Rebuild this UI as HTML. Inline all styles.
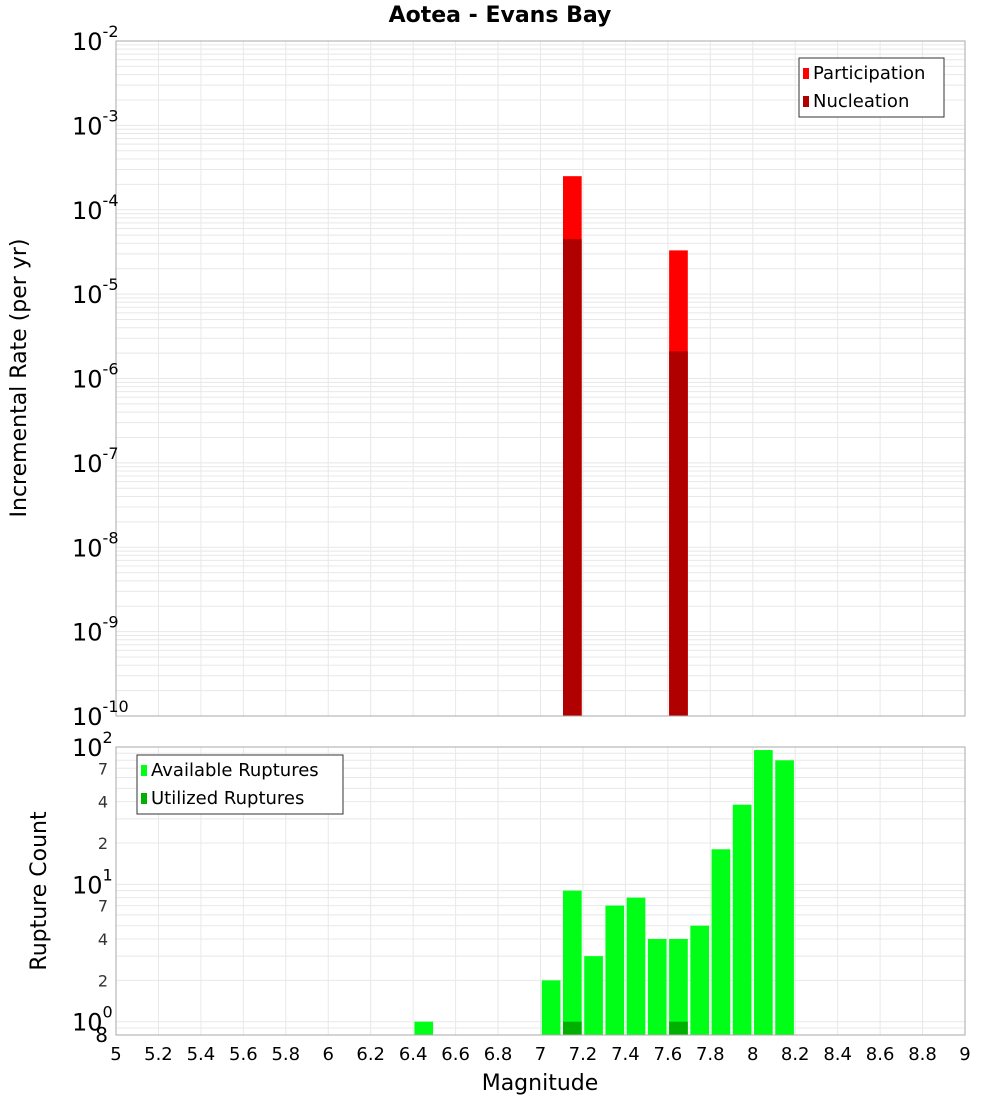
<!DOCTYPE html>
<html><head><meta charset="utf-8"><style>body{margin:0;background:#fff}svg{display:block;font-family:"DejaVu Sans","Liberation Sans",sans-serif}</style></head>
<body>
<svg id="c" width="1000" height="1100"></svg>
<script>
const topCenters=[7.15,7.65];
const participation=[2.5e-4,3.3e-5];
const nucleation=[4.5e-5,2.1e-6];
const botCenters=[6.45,7.05,7.15,7.25,7.35,7.45,7.55,7.65,7.75,7.85,7.95,8.05,8.15];
const available=[1,2,9,3,7,8,4,4,5,18,38,95,80];
const utilCenters=[7.15,7.65];
const utilized=[1,1];
const xTicks=[5,5.2,5.4,5.6,5.8,6,6.2,6.4,6.6,6.8,7,7.2,7.4,7.6,7.8,8,8.2,8.4,8.6,8.8,9];
const topExps=[-2,-3,-4,-5,-6,-7,-8,-9,-10];
const botMinorLabels=[2,4,7];

const NS="http://www.w3.org/2000/svg",svg=document.getElementById('c');
function el(t,a,p){const e=document.createElementNS(NS,t);for(const k in a)e.setAttribute(k,a[k]);(p||svg).appendChild(e);return e;}
const L=116,R=965;
const x=v=>L+(v-5)/4*(R-L);
const T0=41,T1=716,yT=v=>T0+(-2-Math.log10(v))/8*(T1-T0);
const B0=747,B1=1035,bMin=Math.log10(0.8),yB=v=>B0+(2-Math.log10(v))/(2-bMin)*(B1-B0);
const bw=0.088;

let t=el('text',{x:500,y:22,'text-anchor':'middle','font-size':22,'font-weight':'bold'});t.textContent='Aotea - Evans Bay';


// grids
const gTop=el('g',{});
const gBot=el('g',{});
xTicks.forEach(v=>{el('line',{x1:x(v),x2:x(v),y1:T0,y2:T1,stroke:'#e8e8e8'},gTop);el('line',{x1:x(v),x2:x(v),y1:B0,y2:B1,stroke:'#e8e8e8'},gBot);});
for(let e=-10;e<-2;e++)for(let m=1;m<10;m++){const y=yT(m*Math.pow(10,e));el('line',{x1:L,x2:R,y1:y,y2:y,stroke:'#e8e8e8'},gTop);}
for(let e=-1;e<2;e++)for(let m=1;m<10;m++){const v=m*Math.pow(10,e);if(v<0.8)continue;const y=yB(v);el('line',{x1:L,x2:R,y1:y,y2:y,stroke:'#e8e8e8'},gBot);}

// bars top
topCenters.forEach((c,i)=>{
 let r=el('rect',{x:x(c-bw/2),y:yT(participation[i]),width:x(c+bw/2)-x(c-bw/2),height:T1-yT(participation[i]),fill:'#ff0000'});
 
 r=el('rect',{x:x(c-bw/2),y:yT(nucleation[i]),width:x(c+bw/2)-x(c-bw/2),height:T1-yT(nucleation[i]),fill:'#b00000'});
 
});
botCenters.forEach((c,i)=>{
 const r=el('rect',{x:x(c-bw/2),y:yB(available[i]),width:x(c+bw/2)-x(c-bw/2),height:B1-yB(available[i]),fill:'#00ff16'});
 
});
utilCenters.forEach((c,i)=>{
 const r=el('rect',{x:x(c-bw/2),y:yB(utilized[i]),width:x(c+bw/2)-x(c-bw/2),height:B1-yB(utilized[i]),fill:'#00b000'});
 
});

let f=el('rect',{x:L,y:T0,width:R-L,height:T1-T0,fill:'none',stroke:'#aaa'});
f=el('rect',{x:L,y:B0,width:R-L,height:B1-B0,fill:'none',stroke:'#aaa'});

// y ticks top
topExps.forEach(e=>{const y=yT(Math.pow(10,e));
 const tx=el('text',{x:72,y:y+9,'font-size':24});tx.textContent='10';
 const sp=el('tspan',{dy:-13,'font-size':16});sp.textContent=String(e);tx.appendChild(sp);
 });
[2,1,0].forEach(e=>{const y=yB(Math.pow(10,e));
 const tx=el('text',{x:72,y:y+9,'font-size':24});tx.textContent='10';
 const sp=el('tspan',{dy:-13,'font-size':16});sp.textContent=String(e);tx.appendChild(sp);
 });
[0,1].forEach(e=>botMinorLabels.forEach(m=>{const tx=el('text',{x:108,y:yB(m*Math.pow(10,e))+6,'font-size':16,'text-anchor':'end',fill:'#333'});tx.textContent=m;
 }));
let e8=el('text',{x:108,y:1042,'font-size':20,'text-anchor':'end'});e8.textContent='8';

xTicks.forEach(v=>{const tx=el('text',{x:x(v),y:1060,'font-size':18,'text-anchor':'middle'});tx.textContent=String(v);
 });

let a=el('text',{x:540,y:1090,'font-size':22,'text-anchor':'middle'});a.textContent='Magnitude';
a=el('text',{x:0,y:0,'font-size':22,'text-anchor':'middle',transform:'translate(26,378) rotate(-90)'});a.textContent='Incremental Rate (per yr)';
a=el('text',{x:0,y:0,'font-size':22,'text-anchor':'middle',transform:'translate(46,891) rotate(-90)'});a.textContent='Rupture Count';

function legend(x0,y0,w,items,nm){const g=el('g',{});
 el('rect',{x:x0,y:y0,width:w,height:59,fill:'#fff',stroke:'#333'},g);
 items.forEach((it,i)=>{el('rect',{x:x0+4,y:y0+10+i*28,width:6,height:11,fill:it[1]},g);
  const tx=el('text',{x:x0+14,y:y0+21+i*28,'font-size':18},g);tx.textContent=it[0];});}
legend(799,58,145,[['Participation','#ff0000'],['Nucleation','#b00000']],'rate-legend');
legend(137,755,206,[['Available Ruptures','#00ff16'],['Utilized Ruptures','#00b000']],'count-legend');
</script>
</body></html>
